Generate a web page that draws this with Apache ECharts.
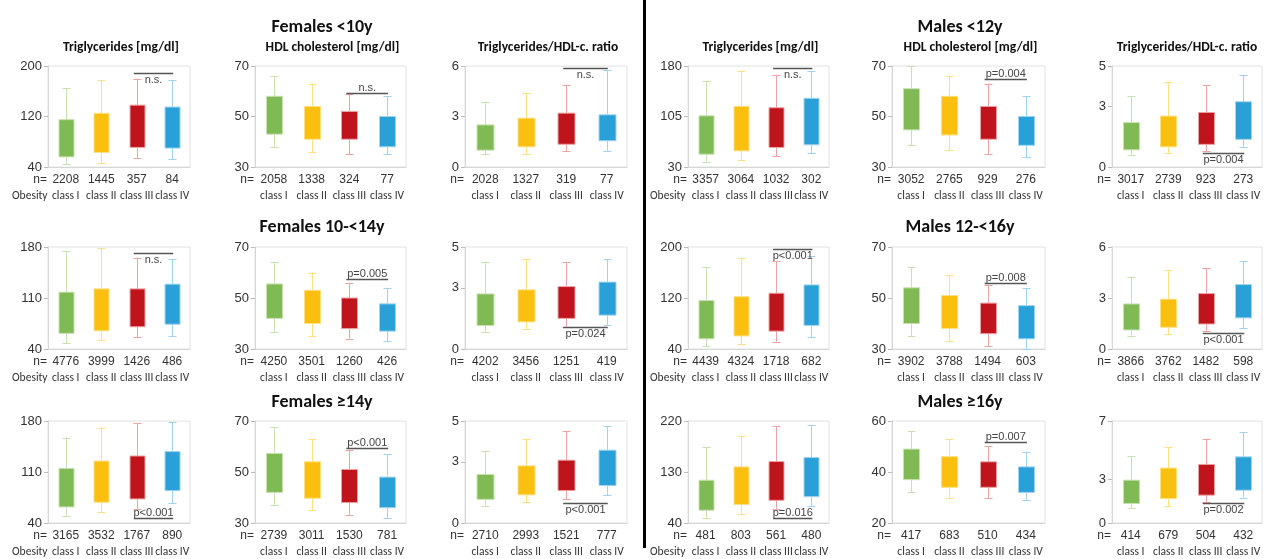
<!DOCTYPE html>
<html><head><meta charset="utf-8">
<script src="https://cdn.jsdelivr.net/npm/echarts@6/dist/echarts.min.js"></script>
<style>html,body{margin:0;padding:0;background:#fff}#c{width:1266px;height:559px}</style>
</head><body><div id="c"></div>
<script>
// Category labels
const categories = ['class I', 'class II', 'class III', 'class IV'];

// Each entry: [lower whisker, Q1, Q3, upper whisker]
const femLt10Tg = [[44, 56, 115, 165], [47, 63, 125, 178], [54, 71, 138, 180], [52, 70, 135, 178]];
const femLt10Hdl = [[38, 43, 58, 66], [36, 41, 54, 63], [35, 41, 52, 59], [35, 38, 50, 58]];
const femLt10Ratio = [[0.75, 1.0, 2.5, 3.85], [0.8, 1.2, 2.9, 4.4], [0.97, 1.35, 3.2, 4.9], [0.97, 1.56, 3.1, 5.75]];
const maleLt12Tg = [[38, 49, 106, 157], [41, 54, 120, 173], [46, 59, 118, 167], [51, 63, 132, 172]];
const maleLt12Hdl = [[38.7, 44.7, 61, 70], [36.7, 42.7, 58, 66], [35, 41, 54, 63], [34, 38.6, 50, 58]];
const maleLt12Ratio = [[0.6, 0.85, 2.2, 3.5], [0.68, 1.0, 2.52, 4.22], [0.8, 1.12, 2.7, 4.06], [1.0, 1.37, 3.23, 4.55]];

const fem10to14Tg = [[48, 61.5, 118, 174.5], [52, 65, 122.5, 178], [56, 70.5, 122.5, 165.5], [58, 74, 129, 163]];
const fem10to14Hdl = [[36.5, 42, 55.5, 64], [35, 40, 53, 60], [34, 38, 50, 56], [33, 37, 47.7, 54]];
const fem10to14Ratio = [[0.85, 1.15, 2.7, 4.26], [1.0, 1.33, 2.9, 4.42], [1.1, 1.5, 3.06, 4.26], [1.18, 1.66, 3.28, 4.42]];
const male12to16Tg = [[44, 56, 116, 168], [48, 60.5, 122, 182], [51.5, 68, 127.5, 178], [59, 77, 140.5, 186]];
const male12to16Hdl = [[35, 40, 54, 62], [33, 38, 51, 59], [31, 36, 48, 55], [30, 34, 47, 54]];
const male12to16Ratio = [[0.78, 1.12, 2.65, 4.23], [0.88, 1.28, 2.93, 4.64], [1.07, 1.47, 3.26, 4.74], [1.22, 1.83, 3.79, 5.17]];

const femGe14Tg = [[50, 62, 115, 157], [55, 68.5, 125, 171], [59, 73, 132, 177], [67, 84.5, 138, 178]];
const femGe14Hdl = [[37, 42, 57.3, 67.5], [35, 39.7, 54, 62.8], [33, 38, 51, 58.5], [32, 36, 48, 57]];
const femGe14Ratio = [[0.85, 1.16, 2.38, 3.54], [1.03, 1.38, 2.8, 4.1], [1.16, 1.59, 3.08, 4.51], [1.35, 1.84, 3.57, 4.77]];
const maleGe16Tg = [[49.5, 62.5, 115.5, 174.5], [56.5, 72.5, 139, 193.5], [65, 80, 148.5, 211], [70, 86.5, 155.5, 212.5]];
const maleGe16Hdl = [[32, 37, 49, 56], [30, 34, 46, 53], [29.8, 34, 44, 50.3], [29.2, 32, 42, 48]];
const maleGe16Ratio = [[1.0, 1.34, 2.94, 4.6], [1.17, 1.68, 3.77, 5.23], [1.45, 1.91, 4.02, 5.74], [1.75, 2.25, 4.54, 6.22]];

// Sample sizes (n=)
const femLt10TgN = [2208, 1445, 357, 84];
const femLt10HdlN = [2058, 1338, 324, 77];
const femLt10RatioN = [2028, 1327, 319, 77];
const maleLt12TgN = [3357, 3064, 1032, 302];
const maleLt12HdlN = [3052, 2765, 929, 276];
const maleLt12RatioN = [3017, 2739, 923, 273];
const fem10to14TgN = [4776, 3999, 1426, 486];
const fem10to14HdlN = [4250, 3501, 1260, 426];
const fem10to14RatioN = [4202, 3456, 1251, 419];
const male12to16TgN = [4439, 4324, 1718, 682];
const male12to16HdlN = [3902, 3788, 1494, 603];
const male12to16RatioN = [3866, 3762, 1482, 598];
const femGe14TgN = [3165, 3532, 1767, 890];
const femGe14HdlN = [2739, 3011, 1530, 781];
const femGe14RatioN = [2710, 2993, 1521, 777];
const maleGe16TgN = [481, 803, 561, 480];
const maleGe16HdlN = [417, 683, 510, 434];
const maleGe16RatioN = [414, 679, 504, 432];

// Y tick labels
const femLt10TgTicks = [40, 120, 200];
const femLt10HdlTicks = [30, 50, 70];
const femLt10RatioTicks = [0, 3, 6];
const maleLt12TgTicks = [30, 105, 180];
const maleLt12HdlTicks = [30, 50, 70];
const maleLt12RatioTicks = [0, 3, 5];
const fem10to14TgTicks = [40, 110, 180];
const fem10to14HdlTicks = [30, 50, 70];
const fem10to14RatioTicks = [0, 3, 5];
const male12to16TgTicks = [40, 120, 200];
const male12to16HdlTicks = [30, 50, 70];
const male12to16RatioTicks = [0, 3, 6];
const femGe14TgTicks = [40, 110, 180];
const femGe14HdlTicks = [30, 50, 70];
const femGe14RatioTicks = [0, 3, 5];
const maleGe16TgTicks = [40, 130, 220];
const maleGe16HdlTicks = [20, 40, 60];
const maleGe16RatioTicks = [0, 3, 7];

// Significance annotations (class III vs class IV): [label, y value, label side]
const femLt10TgSig = ['n.s.', 189, 'below'];
const femLt10HdlSig = ['n.s.', 59.4, 'above'];
const femLt10RatioSig = ['n.s.', 5.9, 'below'];
const maleLt12TgSig = ['n.s.', 176.6, 'below'];
const maleLt12HdlSig = ['p=0.004', 64.9, 'above'];
const maleLt12RatioSig = ['p=0.004', 0.68, 'below'];
const fem10to14TgSig = ['n.s.', 171.8, 'below'];
const fem10to14HdlSig = ['p=0.005', 57.6, 'above'];
const fem10to14RatioSig = ['p=0.024', 1.07, 'below'];
const male12to16TgSig = ['p<0.001', 197.3, 'below'];
const male12to16HdlSig = ['p=0.008', 56, 'above'];
const male12to16RatioSig = ['p<0.001', 0.93, 'below'];
const femGe14TgSig = ['p<0.001', 47.4, 'above'];
const femGe14HdlSig = ['p<0.001', 59.3, 'above'];
const femGe14RatioSig = ['p<0.001', 0.98, 'below'];
const maleGe16TgSig = ['p=0.016', 49.5, 'above'];
const maleGe16HdlSig = ['p=0.007', 51.6, 'above'];
const maleGe16RatioSig = ['p=0.002', 1.38, 'below'];

const groupTitlesF = ['Females <10y', 'Females 10-<14y', 'Females \u226514y'];
const groupTitlesM = ['Males <12y', 'Males 12-<16y', 'Males \u226516y'];
const measureTitles = ['Triglycerides [mg/dl]', 'HDL cholesterol [mg/dl]', 'Triglycerides/HDL-c. ratio'];

// ---- styling / layout ----
const boxColors = ['#7fba55', '#fbbf12', '#c0141d', '#2aa0d9'];
const whiskerColors = ['#c9e0b0', '#ffe07e', '#eca3a3', '#9fd3ef'];
const NUM_FONT = '"Liberation Sans", Arial, sans-serif';
const TXT_FONT = 'Carlito, Lato, sans-serif';

const panels = [
  [femLt10Tg, femLt10TgN, femLt10TgTicks, femLt10TgSig],
  [femLt10Hdl, femLt10HdlN, femLt10HdlTicks, femLt10HdlSig],
  [femLt10Ratio, femLt10RatioN, femLt10RatioTicks, femLt10RatioSig],
  [maleLt12Tg, maleLt12TgN, maleLt12TgTicks, maleLt12TgSig],
  [maleLt12Hdl, maleLt12HdlN, maleLt12HdlTicks, maleLt12HdlSig],
  [maleLt12Ratio, maleLt12RatioN, maleLt12RatioTicks, maleLt12RatioSig],
  [fem10to14Tg, fem10to14TgN, fem10to14TgTicks, fem10to14TgSig],
  [fem10to14Hdl, fem10to14HdlN, fem10to14HdlTicks, fem10to14HdlSig],
  [fem10to14Ratio, fem10to14RatioN, fem10to14RatioTicks, fem10to14RatioSig],
  [male12to16Tg, male12to16TgN, male12to16TgTicks, male12to16TgSig],
  [male12to16Hdl, male12to16HdlN, male12to16HdlTicks, male12to16HdlSig],
  [male12to16Ratio, male12to16RatioN, male12to16RatioTicks, male12to16RatioSig],
  [femGe14Tg, femGe14TgN, femGe14TgTicks, femGe14TgSig],
  [femGe14Hdl, femGe14HdlN, femGe14HdlTicks, femGe14HdlSig],
  [femGe14Ratio, femGe14RatioN, femGe14RatioTicks, femGe14RatioSig],
  [maleGe16Tg, maleGe16TgN, maleGe16TgTicks, maleGe16TgSig],
  [maleGe16Hdl, maleGe16HdlN, maleGe16HdlTicks, maleGe16HdlSig],
  [maleGe16Ratio, maleGe16RatioN, maleGe16RatioTicks, maleGe16RatioSig]
];

const colLeft = [48, 255, 465, 688, 892, 1112];
const colWidth = [142, 151, 162, 141, 153, 150];
const rowTop = [66, 247, 421];
const rowHeight = [101, 102, 102];

function renderBox(params, api) {
  const i = api.value(0);
  const lo = api.coord([i, api.value(1)]);
  const q1 = api.coord([i, api.value(2)]);
  const q3 = api.coord([i, api.value(3)]);
  const hi = api.coord([i, api.value(4)]);
  const band = api.size([1, 0])[0];
  const bw = Math.round(band * 0.43);
  const cap = 8;
  const x = Math.round(lo[0]) + 0.5;
  const lc = whiskerColors[i], dc = boxColors[i];
  const ls = { stroke: lc, lineWidth: 1 };
  return {
    type: 'group',
    children: [
      { type: 'line', shape: { x1: x, y1: hi[1], x2: x, y2: q3[1] }, style: ls },
      { type: 'line', shape: { x1: x, y1: q1[1], x2: x, y2: lo[1] }, style: ls },
      { type: 'line', shape: { x1: x - cap / 2, y1: Math.round(hi[1]) + 0.5, x2: x + cap / 2, y2: Math.round(hi[1]) + 0.5 }, style: ls },
      { type: 'line', shape: { x1: x - cap / 2, y1: Math.round(lo[1]) + 0.5, x2: x + cap / 2, y2: Math.round(lo[1]) + 0.5 }, style: ls },
      { type: 'rect', shape: { x: x - bw / 2, y: q3[1], width: bw, height: q1[1] - q3[1] }, style: { fill: dc, stroke: lc, lineWidth: 1 } }
    ]
  };
}

function makeSigRenderer(label, side) {
  return function (params, api) {
    const a = api.coord([api.value(0), api.value(2)]);
    const b = api.coord([api.value(1), api.value(2)]);
    const x1 = a[0] - 3, x2 = b[0] + 1;
    const y = Math.round(a[1]) + 0.5;
    const above = side === 'above';
    return {
      type: 'group',
      children: [
        { type: 'line', shape: { x1: x1, y1: y, x2: x2, y2: y }, style: { stroke: '#555', lineWidth: 1.3 } },
        { type: 'text', style: { text: label, x: (x1 + x2) / 2, y: above ? y - 0.5 : y + 1,
            align: 'center', textAlign: 'center',
            verticalAlign: above ? 'bottom' : 'top', textVerticalAlign: above ? 'bottom' : 'top',
            fill: '#444', font: '11px ' + NUM_FONT } }
      ]
    };
  };
}

const grid = [], xAxis = [], yAxis = [], series = [], graphic = [];

function addText(text, x, y, font, align, color) {
  graphic.push({ type: 'text', x: x, y: y, silent: true,
    style: { text: text, font: font, fill: color || '#222', align: align || 'center', textAlign: align || 'center',
      verticalAlign: 'middle', textVerticalAlign: 'middle' } });
}

panels.forEach(function (p, k) {
  const r = Math.floor(k / 6), c = k % 6;
  const data = p[0], nArr = p[1], ticks = p[2], sig = p[3];
  grid.push({ left: colLeft[c], top: rowTop[r], width: colWidth[c], height: rowHeight[r],
    show: true, borderColor: '#e2e2e2', borderWidth: 1, backgroundColor: 'transparent' });
  xAxis.push({
    type: 'category', gridIndex: k, data: categories,
    axisLine: { lineStyle: { color: '#d6d6d6' } },
    axisTick: { show: false },
    axisLabel: {
      interval: 0, margin: 4,
      formatter: function (v, idx) { return '{n|' + nArr[idx] + '}\n{c|' + v + '}'; },
      rich: {
        n: { fontFamily: NUM_FONT, fontSize: 12, color: '#333', lineHeight: 17 },
        c: { fontFamily: TXT_FONT, fontSize: 11.5, color: '#333', lineHeight: 17 }
      }
    }
  });
  yAxis.push({
    type: 'value', gridIndex: k, min: ticks[0], max: ticks[ticks.length - 1],
    axisLine: { show: true, lineStyle: { color: '#d6d6d6' } },
    axisTick: { show: true, length: 4, customValues: ticks, lineStyle: { color: '#bbb' } },
    axisLabel: { customValues: ticks, margin: 6, fontFamily: NUM_FONT, fontSize: 13, color: '#333' },
    splitLine: { show: false }
  });
  series.push({
    type: 'custom', xAxisIndex: k, yAxisIndex: k,
    renderItem: renderBox,
    encode: { x: 0, y: [1, 2, 3, 4] },
    data: data.map(function (d, i) { return [i].concat(d); }),
    silent: true
  });
  series.push({
    type: 'custom', xAxisIndex: k, yAxisIndex: k,
    renderItem: makeSigRenderer(sig[0], sig[2]),
    encode: { x: [0, 1], y: 2 },
    data: [[2, 3, sig[1]]],
    silent: true, z: 5
  });
  // "n=" label
  const bottom = rowTop[r] + rowHeight[r];
  addText('n=', colLeft[c] - 1, bottom + 12.5, '12px ' + NUM_FONT, 'right', '#333');
  if (c === 0 || c === 3) {
    addText('Obesity', c === 0 ? 12 : 650, bottom + 29.5, '11.5px ' + TXT_FONT, 'left', '#333');
  }
});

// Group titles
const titleY = [27, 227, 402];
for (let r = 0; r < 3; r++) {
  addText(groupTitlesF[r], 322, titleY[r], 'bold 18px ' + TXT_FONT, 'center', '#111');
  addText(groupTitlesM[r], 960, titleY[r], 'bold 18px ' + TXT_FONT, 'center', '#111');
}
// Measure subtitles (first row)
for (let c = 0; c < 6; c++) {
  addText(measureTitles[c % 3], colLeft[c] + colWidth[c] / 2 + (c === 5 ? 0 : 2), 48, 'bold 13.5px ' + TXT_FONT, 'center', '#111');
}
// Divider between females and males
graphic.push({ type: 'line', silent: true, shape: { x1: 644.5, y1: 0, x2: 644.5, y2: 548 }, style: { stroke: '#000', lineWidth: 3 } });

const chart = echarts.init(document.getElementById('c'), null, { renderer: 'canvas' });
chart.setOption({
  animation: false,
  backgroundColor: '#fff',
  grid: grid, xAxis: xAxis, yAxis: yAxis, series: series,
  graphic: { elements: graphic }
});
</script></body></html>
